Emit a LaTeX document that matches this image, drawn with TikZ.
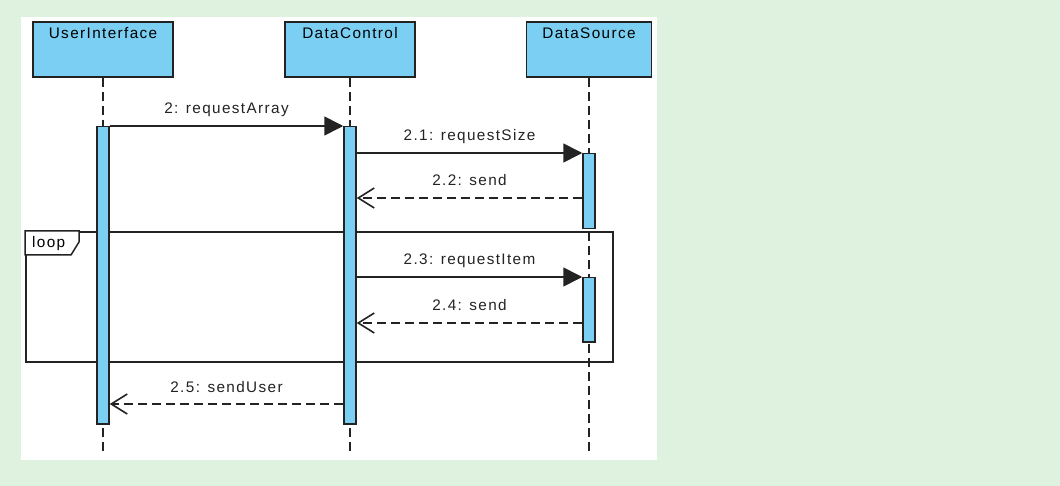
\documentclass[tikz,border=0pt]{standalone}
\usepackage{fontspec}
\setmainfont{Liberation Sans}[LetterSpace=9]
\usetikzlibrary{arrows.meta,positioning}
\definecolor{bggreen}{RGB}{222,242,223}
\definecolor{lifeblue}{RGB}{122,207,243}
\definecolor{inkgray}{RGB}{35,35,35}

\begin{document}
\begin{tikzpicture}[x=1pt,y=-1pt,
  head/.style={draw=inkgray,line width=1.6pt,fill=lifeblue,minimum height=55pt,inner sep=0pt},
  headtext/.style={font=\fontsize{15.3pt}{18pt}\selectfont,inner sep=0pt},
  bar/.style={draw=inkgray,line width=1.5pt,fill=lifeblue,minimum width=12pt,inner sep=0pt,anchor=north},
  lifeline/.style={inkgray,line width=1.5pt,dash pattern=on 9pt off 5pt},
  call/.style={inkgray,line width=1.6pt,-{Triangle[length=19pt,width=19pt]}},
  reply/.style={inkgray,line width=1.6pt,dash pattern=on 9pt off 5pt,-{Straight Barb[length=16pt,width=20pt]}},
  msg/.style={font=\fontsize{15.3pt}{18pt}\selectfont,inner sep=0pt,anchor=base,yshift=12pt,midway}]
\fill[bggreen] (0,0) rectangle (1060,486);
\fill[white] (21,17) rectangle (657,460);
\useasboundingbox (0,0) rectangle (1060,486);

% loop frame
\node[draw=inkgray,line width=1.6pt,minimum width=587pt,minimum height=130pt,inner sep=0pt,anchor=north west] (loopF) at (25,231) {};
\draw[inkgray,line width=1.5pt,fill=white] (loopF.north west) -- ++(54,0) -- ++(0,11) -- ++(-8,13) -- ++(-46,0) -- cycle;
\node[headtext,anchor=base west] (loopT) at (32,247.5) {loop};

% heads
\node[head,minimum width=140pt] (ui) at (103,49.5) {};
\node[head,minimum width=130pt] (dc) at (350,49.5) {};
\node[head,minimum width=125pt] (ds) at (589,49.5) {};
\node[headtext,below=6pt of ui.north] (uiT) {UserInterface};
\node[headtext,below=6pt of dc.north] (dcT) {DataControl};
\node[headtext,below=6pt of ds.north] (dsT) {DataSource};

\coordinate (uiEnd) at (103,455);
\coordinate (dcEnd) at (350,455);
\coordinate (dsEnd) at (589,455);
\draw[lifeline] (ui.south) -- (uiEnd);
\draw[lifeline] (dc.south) -- (dcEnd);
\draw[lifeline] (ds.south) -- (dsEnd);

% activations
\node[bar,minimum height=297pt] (uiA) at (103,126) {};
\node[bar,minimum height=297pt] (dcA) at (350,126) {};
\node[bar,minimum height=75pt] (dsA1) at (589,153) {};
\node[bar,minimum height=64pt] (dsA2) at (589,277) {};

% messages
\draw[call] (uiA.north east) -- (dcA.north west) node[msg] {2: requestArray};
\draw[call] (dcA.east |- dsA1.north) -- (dsA1.north west) node[msg] {2.1: requestSize};
\draw[reply] (dsA1.west |- 0,198) -- (dcA.east |- 0,198) node[msg] {2.2: send};
\draw[call] (dcA.east |- dsA2.north) -- (dsA2.north west) node[msg] {2.3: requestItem};
\draw[reply] (dsA2.west |- 0,323) -- (dcA.east |- 0,323) node[msg] {2.4: send};
\draw[reply] (dcA.west |- 0,404) -- (uiA.east |- 0,404) node[msg] {2.5: sendUser};
\end{tikzpicture}
\end{document}
